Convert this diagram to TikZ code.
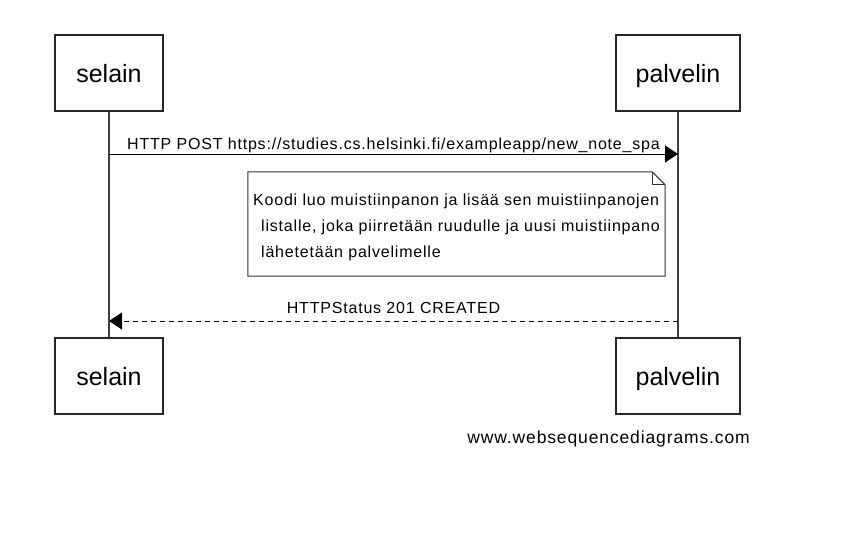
\documentclass[tikz,border=0pt]{standalone}
\usepackage{fontspec}
\setmainfont{Liberation Sans}
\newfontfamily\msgfont[LetterSpace=5]{Liberation Sans}
\usetikzlibrary{arrows.meta,positioning,calc}

\tikzset{
  actor/.style={draw=black!85, line width=1.4pt, minimum width=108pt, minimum height=76pt,
    inner sep=0pt, text height=21pt, text depth=2pt, font=\fontsize{25}{30}\selectfont},
  life/.style={line width=1.4pt, draw=black!75},
  msg/.style={line width=1pt, -{Triangle[length=13pt,width=17pt]}},
  reply/.style={msg, dash pattern=on 5pt off 4pt},
  msglabel/.style={font=\msgfont\fontsize{16}{26}\selectfont, inner sep=0pt, anchor=base},
  notebox/.style={minimum width=417pt, minimum height=104pt, inner sep=0pt},
}

\begin{document}
\begin{tikzpicture}[x=1pt,y=-1pt]
\useasboundingbox (0,0) rectangle (860,543);
\node[actor] (selain) at (109,73) {selain};
\node[actor, minimum width=124pt] (palvelin) at (678,73) {palvelin};
\node[actor] (selain2) at (109,376) {selain};
\node[actor, minimum width=124pt] (palvelin2) at (678,376) {palvelin};
\draw[life] (selain) -- (selain2);
\draw[life] (palvelin) -- (palvelin2);

\coordinate (post s) at (109,154);
\coordinate (post e) at (678,154);
\draw[msg] (post s) -- (post e);
\node[msglabel] (postlbl) at ($(post s)!0.5!(post e)+(0,-5)$)
  {HTTP POST https://studies.cs.helsinki.fi/exampleapp/new\_note\_spa};

\node[notebox] (note) at (456.5,224) {};
\draw[line width=1pt, draw=black!80] (note.north west) -- ([xshift=-13pt]note.north east)
  -- ([yshift=-13pt]note.north east) -- (note.south east) -- (note.south west) -- cycle;
\draw[line width=1pt, draw=black!80] ([xshift=-13pt]note.north east)
  -- ([xshift=-13pt,yshift=-13pt]note.north east) -- ([yshift=-13pt]note.north east);
\node[msglabel, anchor=base west, align=left] (notetxt) at (253,257)
  {Koodi luo muistiinpanon ja lisää sen muistiinpanojen\\
   \hspace*{8pt}listalle, joka piirretään ruudulle ja uusi muistiinpano\\
   \hspace*{8pt}lähetetään palvelimelle};

\coordinate (ok s) at (678,321);
\coordinate (ok e) at (109,321);
\draw[reply] (ok s) -- (ok e);
\node[msglabel] (oklbl) at ($(ok s)!0.5!(ok e)+(0,-8)$) {HTTPStatus 201 CREATED};

\node[msglabel, anchor=base east, font=\msgfont\fontsize{17.5}{20}\selectfont] (wsd) at (750,443)
  {www.websequencediagrams.com};
\end{tikzpicture}
\end{document}
